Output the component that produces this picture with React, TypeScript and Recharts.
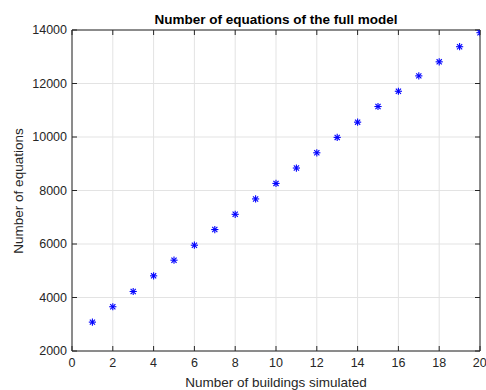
import React from "react";
import {
  ScatterChart,
  Scatter,
  XAxis,
  YAxis,
  CartesianGrid,
} from "recharts";

const buildings = [1, 2, 3, 4, 5, 6, 7, 8, 9, 10, 11, 12, 13, 14, 15, 16, 17, 18, 19, 20];
const equations = [
  3080, 3655, 4225, 4810, 5395, 5955, 6540, 7110, 7685, 8265,
  8840, 9410, 9985, 10555, 11140, 11710, 12285, 12810, 13375, 13900,
];
const xTicks = [0, 2, 4, 6, 8, 10, 12, 14, 16, 18, 20];
const yTicks = [2000, 4000, 6000, 8000, 10000, 12000, 14000];

const data = buildings.map((b, i) => ({ x: b, y: equations[i] }));

const axisColor = "#262626";
const font = "'Liberation Sans', Arial, sans-serif";

// MATLAB style '*' marker
const Asterisk = (props: any) => {
  const { cx, cy } = props;
  const r = 3.6;
  const d = r * 0.72;
  return (
    <g stroke="#0000ff" strokeWidth={1.1}>
      <line x1={cx - r} y1={cy} x2={cx + r} y2={cy} />
      <line x1={cx} y1={cy - r} x2={cx} y2={cy + r} />
      <line x1={cx - d} y1={cy - d} x2={cx + d} y2={cy + d} />
      <line x1={cx - d} y1={cy + d} x2={cx + d} y2={cy - d} />
    </g>
  );
};

const NoMark = () => <g />;
const EmptyTick = () => <g />;

export default function App() {
  return (
    <div style={{ position: "absolute", left: 0, top: 0, width: 486, height: 390, background: "#fff", fontFamily: font }}>
      <ScatterChart
        width={486}
        height={390}
        margin={{ top: 29, right: 5, bottom: 9, left: 12 }}
      >
        <CartesianGrid xAxisId="b" yAxisId="l" stroke="#e3e3e3" strokeWidth={1} />
        <XAxis
          xAxisId="b"
          type="number"
          dataKey="x"
          domain={[0, 20]}
          ticks={xTicks}
          height={30}
          stroke={axisColor}
          tickSize={-5}
          tickMargin={12}
          tick={{ fill: axisColor, fontSize: 12.5, fontFamily: font }}
          allowDataOverflow
        />
        <XAxis
          xAxisId="t"
          orientation="top"
          type="number"
          dataKey="x"
          domain={[0, 20]}
          ticks={xTicks}
          height={1}
          stroke={axisColor}
          tickSize={-5}
          tick={<EmptyTick />}
          allowDataOverflow
        />
        <YAxis
          yAxisId="l"
          type="number"
          dataKey="y"
          domain={[2000, 14000]}
          ticks={yTicks}
          width={60}
          stroke={axisColor}
          tickSize={-5}
          tickMargin={10}
          tick={{ fill: axisColor, fontSize: 12.5, fontFamily: font }}
          allowDataOverflow
        />
        <YAxis
          yAxisId="r"
          orientation="right"
          type="number"
          dataKey="y"
          domain={[2000, 14000]}
          ticks={yTicks}
          width={1}
          stroke={axisColor}
          tickSize={-5}
          tick={<EmptyTick />}
          allowDataOverflow
        />
        <Scatter
          data={data}
          xAxisId="t"
          yAxisId="r"
          shape={<NoMark />}
          legendType="none"
          isAnimationActive={false}
        />
        <Scatter
          data={data}
          xAxisId="b"
          yAxisId="l"
          shape={<Asterisk />}
          isAnimationActive={false}
        />
        <text x={276} y={24} textAnchor="middle" fontSize={13.5} fontWeight="bold" fill="#000" fontFamily={font}>
          Number of equations of the full model
        </text>
        <text x={276} y={387} textAnchor="middle" fontSize={13.5} fill={axisColor} fontFamily={font}>
          Number of buildings simulated
        </text>
        <text
          x={23}
          y={191}
          textAnchor="middle"
          fontSize={13.5}
          fill={axisColor}
          fontFamily={font}
          transform="rotate(-90 23 191)"
        >
          Number of equations
        </text>
      </ScatterChart>
    </div>
  );
}
